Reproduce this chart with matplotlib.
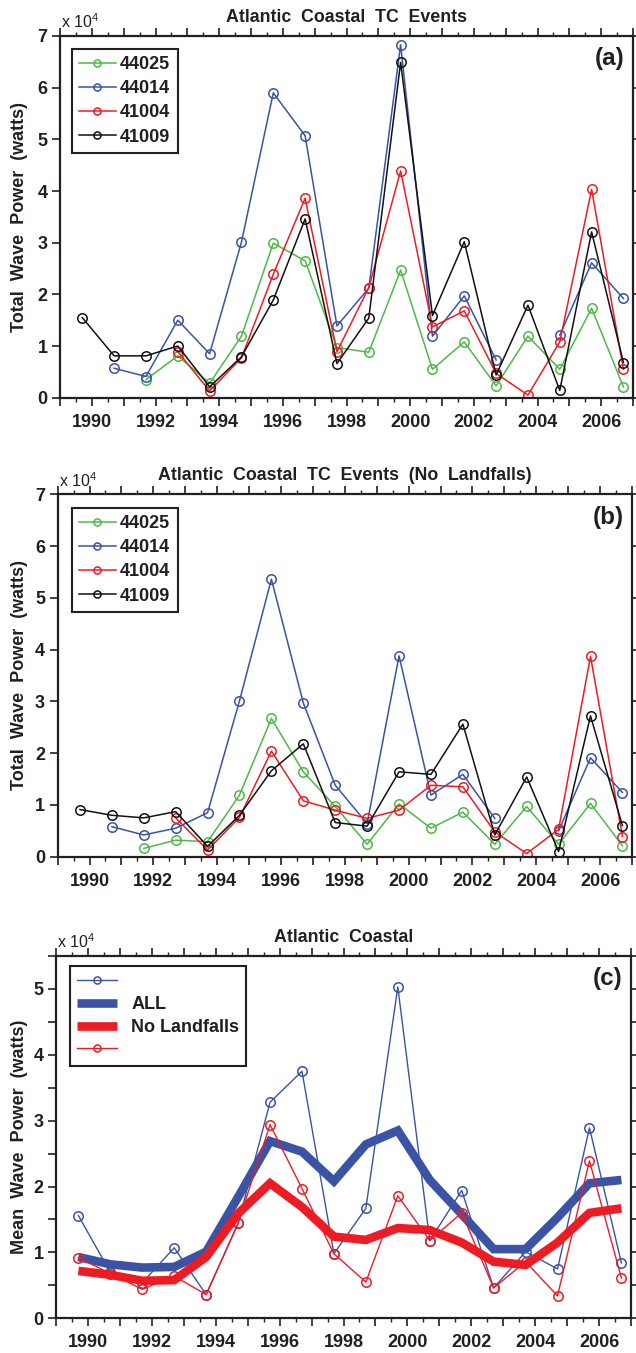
import numpy as np
import matplotlib
matplotlib.use("Agg")
import matplotlib.pyplot as plt
from matplotlib.ticker import FixedLocator, FuncFormatter

plt.rcParams['font.family'] = ['Liberation Sans', 'DejaVu Sans']
plt.rcParams['font.weight'] = 'bold'
plt.rcParams['mathtext.default'] = 'regular'

nan = np.nan
years = np.arange(1989, 2007)

stations = ['44025', '44014', '41004', '41009']

# Panel (a): Atlantic Coastal TC Events (x 1e4 watts)
a_44025 = [nan, nan, 0.35, 0.81, 0.28, 1.19, 2.99, 2.65, 0.97, 0.88, 2.47, 0.55, 1.08, 0.23, 1.19, 0.55, 1.73, 0.21]
a_44014 = [nan, 0.57, 0.41, 1.50, 0.85, 3.01, 5.90, 5.07, 1.39, 2.12, 6.83, 1.19, 1.97, 0.73, nan, 1.21, 2.61, 1.92]
a_41004 = [nan, nan, nan, 0.89, 0.13, 0.77, 2.39, 3.86, 0.89, 2.13, 4.39, 1.37, 1.68, 0.47, 0.05, 1.08, 4.03, 0.55]
a_41009 = [1.55, 0.81, 0.81, 1.00, 0.21, 0.79, 1.89, 3.46, 0.66, 1.54, 6.49, 1.59, 3.02, 0.44, 1.79, 0.14, 3.21, 0.68]

# Panel (b): No Landfalls
b_44025 = [nan, nan, 0.16, 0.32, 0.29, 1.19, 2.67, 1.64, 0.97, 0.24, 1.02, 0.55, 0.86, 0.24, 0.97, 0.24, 1.03, 0.21]
b_44014 = [nan, 0.58, 0.42, 0.55, 0.85, 3.01, 5.36, 2.97, 1.38, 0.64, 3.88, 1.19, 1.59, 0.74, nan, 0.50, 1.91, 1.24]
b_41004 = [nan, nan, nan, 0.75, 0.13, 0.76, 2.04, 1.08, 0.90, 0.74, 0.90, 1.38, 1.35, 0.48, 0.06, 0.53, 3.87, 0.39]
b_41009 = [0.91, 0.80, 0.75, 0.87, 0.20, 0.80, 1.66, 2.18, 0.66, 0.59, 1.64, 1.59, 2.56, 0.42, 1.54, 0.10, 2.72, 0.60]

# Panel (c): Atlantic Coastal mean wave power
c_all_thin = [1.56, 0.70, 0.54, 1.07, 0.36, 1.44, 3.28, 3.75, 0.98, 1.67, 5.03, 1.18, 1.94, 0.46, 1.01, 0.75, 2.89, 0.84]
c_all_thick = [0.93, 0.82, 0.77, 0.78, 1.01, 1.84, 2.69, 2.53, 2.08, 2.64, 2.85, 2.10, 1.58, 1.05, 1.05, 1.53, 2.05, 2.10]
c_nolf_thick = [0.72, 0.66, 0.57, 0.58, 0.93, 1.59, 2.05, 1.69, 1.24, 1.19, 1.37, 1.34, 1.15, 0.86, 0.81, 1.15, 1.60, 1.67]
c_nolf_thin = [0.92, 0.68, 0.44, 0.64, 0.36, 1.44, 2.94, 1.97, 0.98, 0.55, 1.86, 1.18, 1.60, 0.46, 0.86, 0.34, 2.39, 0.61]

titles = ['Atlantic  Coastal  TC  Events',
          'Atlantic  Coastal  TC  Events  (No  Landfalls)',
          'Atlantic  Coastal']
ylabels = ['Total  Wave  Power  (watts)', 'Total  Wave  Power  (watts)',
           'Mean  Wave  Power  (watts)']
panel_labels = ['(a)', '(b)', '(c)']

GREEN = '#4fb848'
BLUE = '#3a53a4'
RED = '#ed1c24'
BLACK = '#111111'
TXT = '#231f20'
colors = [GREEN, BLUE, RED, BLACK]

W, H = 636, 1353
fig = plt.figure(figsize=(W / 100, H / 100), dpi=100)

# axes boxes in pixels: left, right, top, bottom
boxes = [(60, 633, 36, 397.7), (57.6, 632, 494.3, 856.7), (56, 631, 956, 1318.3)]
axes = []
for (l, r, t, b) in boxes:
    ax = fig.add_axes([l / W, (H - b) / H, (r - l) / W, (b - t) / H])
    axes.append(ax)

xoff = 0.7
xs = years + xoff
TICKFS = 13


def style_axis(ax, ymax, ystep_label, ystep_tick):
    ax.set_xlim(1989, 2007)
    ax.set_ylim(0, ymax)
    ax.xaxis.set_major_locator(FixedLocator(np.arange(1989, 2008)))
    ax.xaxis.set_minor_locator(FixedLocator(np.arange(1989.5, 2007, 1.0)))
    ax.xaxis.set_major_formatter(FuncFormatter(
        lambda v, p: str(int(round(v))) if (int(round(v)) % 2 == 0 and 1990 <= v <= 2006) else ''))
    ax.yaxis.set_major_locator(FixedLocator(np.arange(0, ymax + 1e-6, ystep_tick)))
    ax.yaxis.set_major_formatter(FuncFormatter(
        lambda v, p: str(int(round(v))) if abs(v / ystep_label - round(v / ystep_label)) < 1e-6 else ''))
    ax.tick_params(axis='x', which='major', direction='out', length=6, width=1.2,
                   top=True, bottom=True, labelsize=TICKFS, pad=5.5, colors=TXT)
    ax.tick_params(axis='x', which='minor', direction='out', length=3.2, width=1.0,
                   top=True, bottom=True, colors=TXT)
    ax.tick_params(axis='y', which='major', direction='out', length=6, width=1.2,
                   left=True, right=True, labelsize=TICKFS, pad=3, colors=TXT)
    for s in ax.spines.values():
        s.set_linewidth(1.6)
        s.set_color(TXT)
    for lab in ax.get_xticklabels() + ax.get_yticklabels():
        lab.set_fontweight('bold')


panel_data = [[a_44025, a_44014, a_41004, a_41009],
              [b_44025, b_44014, b_41004, b_41009]]
legend_tops = [48.7, 507.7]

for i in range(2):
    ax = axes[i]
    handles = []
    for vals, c, name in zip(panel_data[i], colors, stations):
        h, = ax.plot(xs, vals, '-o', color=c, lw=1.1, ms=6.8, mfc='none', mew=1.1, label=name)
        handles.append(h)
    style_axis(ax, 7, 1, 1)
    l, r, t, b = boxes[i]
    wpx, hpx = r - l, b - t
    leg = ax.legend(handles=handles, loc='upper left',
                    bbox_to_anchor=((72.2 - l) / wpx, 1 - (legend_tops[i] - t) / hpx),
                    borderaxespad=0, frameon=True, fancybox=False, framealpha=1,
                    edgecolor=TXT, prop={'size': 13, 'weight': 'bold'},
                    handlelength=2.0, handletextpad=0.25, labelspacing=0.4,
                    borderpad=0.4, markerscale=0.75)
    leg.get_frame().set_linewidth(1.5)
    for txt in leg.get_texts():
        txt.set_color(TXT)

# Panel (c)
ax = axes[2]
h1, = ax.plot(xs, c_all_thin, '-o', color=BLUE, lw=1.0, ms=6.8, mfc='none', mew=1.1, zorder=2)
h2, = ax.plot(xs, c_all_thick, '-', color=BLUE, lw=6.2, solid_joinstyle='miter', solid_capstyle='butt', zorder=3)
h3, = ax.plot(xs, c_nolf_thick, '-', color=RED, lw=6.2, solid_joinstyle='miter', solid_capstyle='butt', zorder=4)
h4, = ax.plot(xs, c_nolf_thin, '-o', color=RED, lw=1.0, ms=6.8, mfc='none', mew=1.1, zorder=5)
style_axis(ax, 5.5, 1, 0.5)
l, r, t, b = boxes[2]
wpx, hpx = r - l, b - t
leg = ax.legend([h1, h2, h3, h4], ['', 'ALL', 'No Landfalls', ''], loc='upper left',
                bbox_to_anchor=((69.8 - l) / wpx, 1 - (965.7 - t) / hpx),
                borderaxespad=0, frameon=True, fancybox=False, framealpha=1,
                edgecolor=TXT, prop={'size': 13, 'weight': 'bold'},
                handlelength=2.2, handletextpad=0.8, labelspacing=0.33,
                borderpad=0.4, markerscale=0.75)
leg.get_frame().set_linewidth(1.5)
for txt in leg.get_texts():
    txt.set_color(TXT)

# titles, exponent labels, panel labels, y labels
for i, ax in enumerate(axes):
    l, r, t, b = boxes[i]
    wpx, hpx = r - l, b - t
    ax.text(0.5, 1 + 14.5 / hpx, titles[i], transform=ax.transAxes, ha='center', va='baseline',
            fontsize=12.8, fontweight='bold', color=TXT)
    ax.text(1.0 / wpx, 1 + 7.5 / hpx, r'x $10^{4}$', transform=ax.transAxes, ha='left', va='baseline',
            fontsize=11.5, fontweight='normal', color=TXT)
    ax.text(1 - 8 / wpx, 1 - 23 / hpx, panel_labels[i], transform=ax.transAxes, ha='right', va='center',
            fontsize=17.5, fontweight='bold', color=TXT)
    fig.text(20 / W, (H - (t + b) / 2) / H, ylabels[i], rotation=90, ha='center', va='center',
             fontsize=13, fontweight='bold', color=TXT)

fig.savefig('out.png', dpi=100)
